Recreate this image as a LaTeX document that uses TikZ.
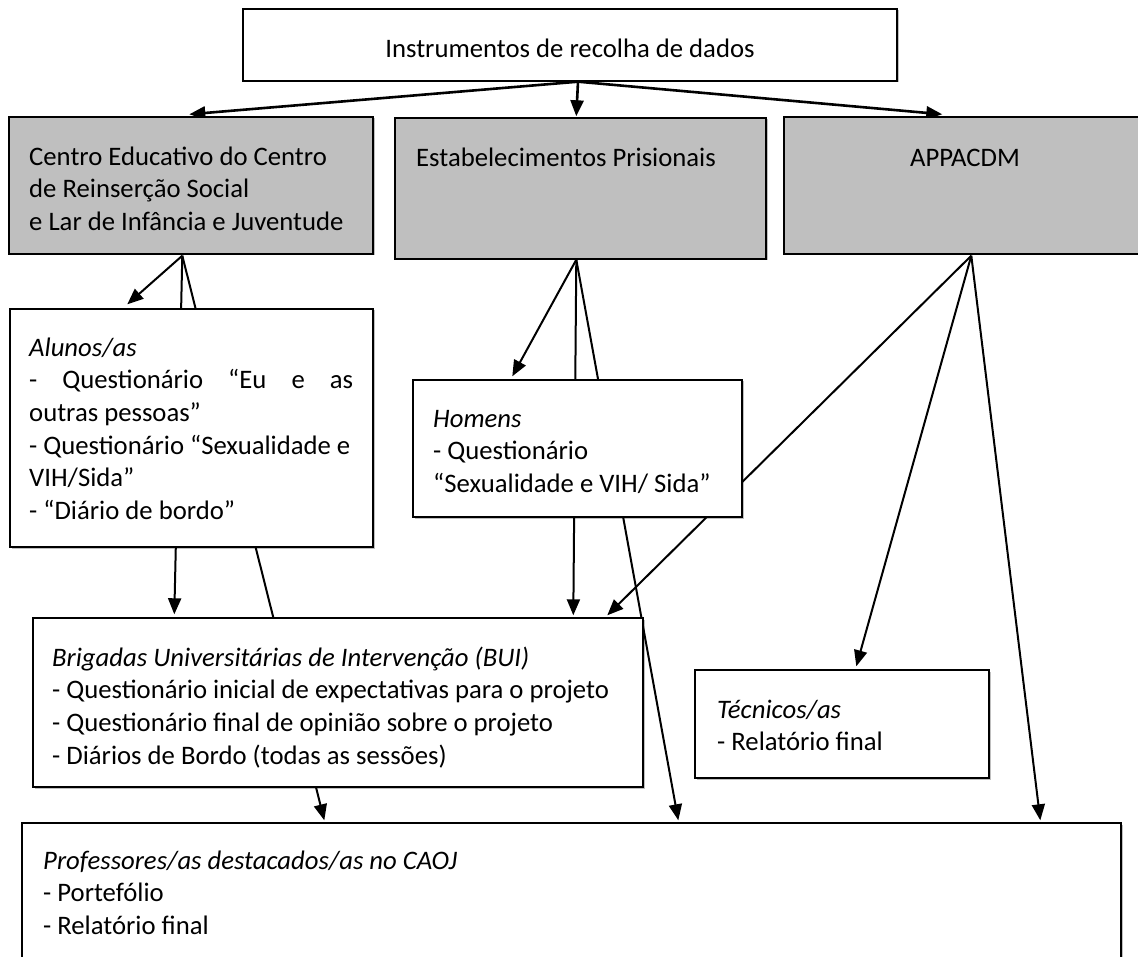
\documentclass[tikz,border=0pt]{standalone}
\usepackage{fontspec}
\setmainfont{Carlito}
\usetikzlibrary{arrows.meta,fit,shadows,calc}
\pgfdeclarelayer{bg}
\pgfsetlayers{bg,main}
\definecolor{boxgray}{HTML}{BFBFBF}
\begin{document}
\begin{tikzpicture}[x=1pt,y=-1pt,
  box/.style={draw=black, line width=1.4pt, fill=white, inner sep=0pt,
    drop shadow={shadow xshift=1.5pt, shadow yshift=-1.5pt, fill=black, opacity=0.25}},
  graybox/.style={box, fill=boxgray},
  txt/.style={inner sep=0pt, anchor=north west, align=left, font=\fontsize{26.7}{32.6}\selectfont},
  arr/.style={line width=2pt, -{Triangle[length=16pt,width=13pt]}},
  toparr/.style={arr, line width=2.6pt},
  ln/.style={line width=2pt}]
\useasboundingbox (0,0) rectangle (1138,957);

% boxes
\node[box, fit={(243,9)(897,81)}] (top) {};
\node[graybox, fit={(9,117)(373,254)}] (A) {};
\node[graybox, fit={(395,118)(766,259)}] (B) {};
\node[graybox, fit={(784,117)(1150,254)}] (C) {};
\node[box, fit={(10,309)(373,547)}] (alunos) {};
\node[box, fit={(413,380)(742,517)}] (homens) {};
\node[box, fit={(33,618)(643,787)}] (bui) {};
\node[box, fit={(695,670)(989,778)}] (tec) {};
\node[box, fit={(22,823)(1121,990)}] (prof) {};

% texts
\node[inner sep=0pt, font=\fontsize{26.7}{32.6}\selectfont] (topT) at (570,48) {Instrumentos de recolha de dados};
\node[txt] (AT) at (29,142.3) {\strut Centro Educativo do Centro\\de Reinserção Social\\e Lar de Infância e Juventude};
\node[txt] (BT) at (416,143.3) {\strut Estabelecimentos Prisionais};
\node[txt, anchor=north] (CT) at (965,143.3) {\strut APPACDM};
\node[txt] (alunosT) at (29,333.3) {\strut\textit{Alunos/as}\\\makebox[324pt][s]{- Questionário “Eu e as}\\outras pessoas”\\- Questionário “Sexualidade e\\VIH/Sida”\\- “Diário de bordo”};
\node[txt] (homensT) at (433,404.3) {\strut\textit{Homens}\\- Questionário\\“Sexualidade e VIH/ Sida”};
\node[txt] (buiT) at (52,643.3) {\strut\textit{Brigadas Universitárias de Intervenção (BUI)}\\- Questionário inicial de expectativas para o projeto\\- Questionário final de opinião sobre o projeto\\- Diários de Bordo (todas as sessões)};
\node[txt] (tecT) at (717,695.3) {\strut\textit{Técnicos/as}\\- Relatório final};
\node[txt] (profT) at (43,846.3) {\strut\textit{Professores/as destacados/as no CAOJ}\\- Portefólio\\- Relatório final};

% origins
\coordinate (o1) at ($(top.south)+(8,0)$);
\coordinate (oA) at ($(A.south west)+(174,1)$);
\coordinate (oB) at ($(B.south west)+(182,0)$);
\coordinate (oC) at ($(C.south west)+(188,1)$);

\begin{pgfonlayer}{bg}
\draw[toparr] (o1) -- ($(A.north west)+(181,-2)$);
\draw[toparr] (o1) -- ($(B.north west)+(182,-1)$);
\draw[toparr] (o1) -- ($(C.north west)+(159,-2)$);

\draw[arr] (oA) -- ($(alunos.north west)+(118,-4)$);
\draw[arr] (oA) -- ($(bui.north west)+(142,-3)$);
\draw[arr] (oA) -- ($(prof.north west)+(303,-2)$);

\draw[arr] (oB) -- ($(homens.north west)+(100,-3)$);
\draw[arr] (oB) -- ($(bui.north west)+(541,-2)$);
\draw[arr] (oB) -- ($(prof.north west)+(657,-2)$);

\draw[arr] (oC) -- ($(bui.north west)+(575,-2)$);
\draw[arr] (oC) -- ($(tec.north west)+(162,-3)$);
\draw[arr] (oC) -- ($(prof.north west)+(1019,-2)$);
\end{pgfonlayer}
\end{tikzpicture}
\end{document}
